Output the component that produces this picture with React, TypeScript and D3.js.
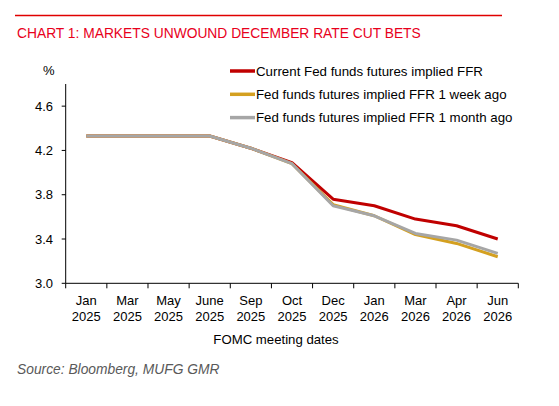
import React from "react";
import * as d3 from "d3";

const categories = [
  ["Jan", "2025"], ["Mar", "2025"], ["May", "2025"], ["June", "2025"], ["Sep", "2025"],
  ["Oct", "2025"], ["Dec", "2025"], ["Jan", "2026"], ["Mar", "2026"], ["Apr", "2026"], ["Jun", "2026"],
];
const currentFFR = [4.33, 4.33, 4.33, 4.33, 4.22, 4.09, 3.76, 3.70, 3.58, 3.52, 3.40];
const weekAgoFFR = [4.33, 4.33, 4.33, 4.33, 4.22, 4.08, 3.71, 3.61, 3.44, 3.36, 3.24];
const monthAgoFFR = [4.33, 4.33, 4.33, 4.33, 4.22, 4.08, 3.70, 3.61, 3.45, 3.39, 3.27];
const yTicks = [3.0, 3.4, 3.8, 4.2, 4.6];
const seriesNames = [
  "Current Fed funds futures implied FFR",
  "Fed funds futures implied FFR 1 week ago",
  "Fed funds futures implied FFR 1 month ago",
];
const seriesColors = ["#C00000", "#D4A020", "#A6A6A6"];

export default function App() {
  const W = 559, H = 406;
  const left = 65.7, right = 518.3, top = 84, bottom = 283.3;
  const x = d3.scaleBand<number>().domain(d3.range(categories.length)).range([left, right]);
  const y = d3.scaleLinear().domain([3.0, 4.8]).range([bottom, top]);
  const line = d3.line<number>().x((_, i) => (x(i) as number) + x.bandwidth() / 2).y((d) => y(d));
  const series = [currentFFR, weekAgoFFR, monthAgoFFR];
  const font = "'Liberation Sans', Arial, sans-serif";
  const bounds = d3.range(categories.length + 1).map((i) => left + i * x.step());
  return (
    <svg width={W} height={H} style={{ position: "absolute", left: 0, top: 0, background: "#fff" }} fontFamily={font}>
      <line x1={15} x2={502} y1={15.5} y2={15.5} stroke="#E00000" strokeWidth={1.5} />
      <text x={17} y={38} fill="#E8001C" fontSize={13.8}>CHART 1: MARKETS UNWOUND DECEMBER RATE CUT BETS</text>
      <text x={43} y={75} fontSize={13} fill="#000">%</text>
      {/* y axis */}
      <line x1={left} x2={left} y1={top} y2={bottom} stroke="#000" strokeWidth={1} />
      {yTicks.map((t) => (
        <g key={t}>
          <line x1={left - 4} x2={left} y1={y(t)} y2={y(t)} stroke="#000" />
          <text x={53} y={y(t) + 4.5} textAnchor="end" fontSize={13} fill="#000">{t.toFixed(1)}</text>
        </g>
      ))}
      {/* x axis */}
      <line x1={left} x2={right} y1={bottom} y2={bottom} stroke="#000" />
      {bounds.map((b, i) => (
        <line key={i} x1={b} x2={b} y1={bottom} y2={bottom + 5} stroke="#000" />
      ))}
      {categories.map((c, i) => {
        const cx = (x(i) as number) + x.bandwidth() / 2;
        return (
          <text key={i} x={cx} textAnchor="middle" fontSize={13} fill="#000">
            <tspan x={cx} y={305}>{c[0]}</tspan>
            <tspan x={cx} y={321}>{c[1]}</tspan>
          </text>
        );
      })}
      <text x={276} y={344} textAnchor="middle" fontSize={13.2} fill="#000">FOMC meeting dates</text>
      {series.map((s, i) => (
        <path key={i} d={line(s) || ""} fill="none" stroke={seriesColors[i]} strokeWidth={3} strokeLinejoin="round" />
      ))}
      {seriesNames.map((n, i) => (
        <g key={n}>
          <line x1={230} x2={255} y1={71 + i * 23.3} y2={71 + i * 23.3} stroke={seriesColors[i]} strokeWidth={3.5} />
          <text x={256} y={75.5 + i * 23.3} fontSize={13.3} fill="#000">{n}</text>
        </g>
      ))}
      <text x={17} y={374} fontSize={13.8} fontStyle="italic" fill="#595959">Source: Bloomberg, MUFG GMR</text>
    </svg>
  );
}
